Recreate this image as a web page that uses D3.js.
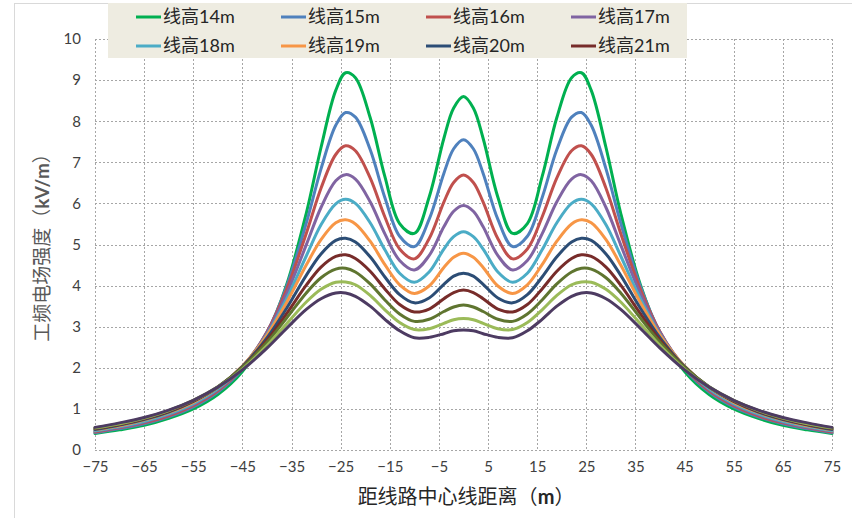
<!DOCTYPE html>
<html><head><meta charset="utf-8">
<script src="https://cdn.jsdelivr.net/npm/d3@7"></script>
<style>html,body{margin:0;padding:0;background:#fff;} svg{display:block;}</style>
</head><body><svg id="c" width="852" height="518"></svg>
<script>
const distances = [-75,-70,-65,-60,-55,-50,-45,-40,-36,-32,-29,-26,-24,-22,-19,-16,-13,-10,-7,-4,-2,0,2,4,7,10,13,16,19,22,24,26,29,32,36,40,45,50,55,60,65,70,75];
const h14 = [0.40,0.49,0.60,0.77,1.00,1.35,1.91,2.83,4.02,5.76,7.36,8.75,9.18,9.06,8.09,6.65,5.51,5.27,6.15,7.58,8.32,8.60,8.32,7.58,6.15,5.27,5.51,6.65,8.09,9.06,9.18,8.75,7.36,5.76,4.02,2.83,1.91,1.35,1.00,0.77,0.60,0.49,0.40];
const h15 = [0.42,0.52,0.64,0.81,1.05,1.41,1.97,2.87,3.98,5.52,6.84,7.90,8.21,8.10,7.31,6.14,5.20,4.95,5.61,6.73,7.33,7.55,7.33,6.73,5.61,4.95,5.20,6.14,7.31,8.10,8.21,7.90,6.84,5.52,3.98,2.87,1.97,1.41,1.05,0.81,0.64,0.52,0.42];
const h16 = [0.44,0.54,0.66,0.83,1.08,1.44,2.00,2.87,3.91,5.27,6.37,7.19,7.40,7.28,6.62,5.67,4.89,4.65,5.14,6.03,6.51,6.69,6.51,6.03,5.14,4.65,4.89,5.67,6.62,7.28,7.40,7.19,6.37,5.27,3.91,2.87,2.00,1.44,1.08,0.83,0.66,0.54,0.44];
const h17 = [0.46,0.55,0.68,0.86,1.11,1.47,2.02,2.85,3.80,4.99,5.90,6.55,6.70,6.59,6.04,5.26,4.61,4.38,4.73,5.43,5.81,5.95,5.81,5.43,4.73,4.38,4.61,5.26,6.04,6.59,6.70,6.55,5.90,4.99,3.80,2.85,2.02,1.47,1.11,0.86,0.68,0.55,0.46];
const h18 = [0.47,0.57,0.70,0.88,1.13,1.49,2.02,2.81,3.68,4.72,5.48,5.99,6.10,6.00,5.53,4.87,4.30,4.08,4.33,4.89,5.19,5.31,5.19,4.89,4.33,4.08,4.30,4.87,5.53,6.00,6.10,5.99,5.48,4.72,3.68,2.81,2.02,1.49,1.13,0.88,0.70,0.57,0.47];
const h19 = [0.49,0.59,0.73,0.91,1.16,1.52,2.04,2.79,3.59,4.50,5.12,5.53,5.60,5.50,5.08,4.51,4.02,3.81,3.99,4.44,4.69,4.79,4.69,4.44,3.99,3.81,4.02,4.51,5.08,5.50,5.60,5.53,5.12,4.50,3.59,2.79,2.04,1.52,1.16,0.91,0.73,0.59,0.49];
const h20 = [0.50,0.61,0.74,0.92,1.18,1.53,2.03,2.73,3.45,4.25,4.77,5.10,5.15,5.06,4.70,4.21,3.78,3.58,3.70,4.03,4.23,4.30,4.23,4.03,3.70,3.58,3.78,4.21,4.70,5.06,5.15,5.10,4.77,4.25,3.45,2.73,2.03,1.53,1.18,0.92,0.74,0.61,0.50];
const h21 = [0.52,0.62,0.76,0.94,1.19,1.53,2.01,2.67,3.32,4.01,4.45,4.71,4.75,4.66,4.35,3.92,3.54,3.36,3.43,3.68,3.83,3.89,3.83,3.68,3.43,3.36,3.54,3.92,4.35,4.66,4.75,4.71,4.45,4.01,3.32,2.67,2.01,1.53,1.19,0.94,0.76,0.62,0.52];
const h22 = [0.53,0.64,0.77,0.96,1.20,1.54,2.01,2.62,3.21,3.82,4.19,4.40,4.42,4.33,4.04,3.65,3.31,3.13,3.18,3.37,3.48,3.53,3.48,3.37,3.18,3.13,3.31,3.65,4.04,4.33,4.42,4.40,4.19,3.82,3.21,2.62,2.01,1.54,1.20,0.96,0.77,0.64,0.53];
const h23 = [0.54,0.64,0.78,0.96,1.21,1.53,1.97,2.54,3.07,3.60,3.91,4.08,4.09,4.02,3.76,3.41,3.10,2.93,2.95,3.08,3.17,3.20,3.17,3.08,2.95,2.93,3.10,3.41,3.76,4.02,4.09,4.08,3.91,3.60,3.07,2.54,1.97,1.53,1.21,0.96,0.78,0.64,0.54];
const h24 = [0.55,0.66,0.79,0.97,1.21,1.53,1.95,2.48,2.96,3.42,3.68,3.82,3.82,3.74,3.50,3.18,2.90,2.73,2.74,2.83,2.90,2.92,2.90,2.83,2.74,2.73,2.90,3.18,3.50,3.74,3.82,3.82,3.68,3.42,2.96,2.48,1.95,1.53,1.21,0.97,0.79,0.66,0.55];
const seriesNames = ["线高14m","线高15m","线高16m","线高17m","线高18m","线高19m","线高20m","线高21m","线高22m","线高23m","线高24m"];
const seriesColors = ["#00B050","#4F81BD","#C0504D","#8064A2","#4BACC6","#F79646","#2C4D75","#772C2A","#5F7530","#9BBB59","#4D3B62"];
const xTicks = [-75,-65,-55,-45,-35,-25,-15,-5,5,15,25,35,45,55,65,75];
const yTicks = [0,1,2,3,4,5,6,7,8,9,10];
const legendCount = 8;

const seriesValues = [h14,h15,h16,h17,h18,h19,h20,h21,h22,h23,h24];
const series = seriesNames.map((n,i)=>({name:n,color:seriesColors[i],pts:distances.map((d,j)=>[d,seriesValues[i][j]])}));

const svg = d3.select("#c");
const L=95,R=832,T=39,B=450;
const x = d3.scaleLinear().domain([-75,75]).range([L,R]);
const y = d3.scaleLinear().domain([0,10]).range([B,T]);

svg.append("rect").attr("x",14.5).attr("y",3.5).attr("width",900).attr("height",600)
  .attr("fill","#fff").attr("stroke","#D9D9D9").attr("stroke-width",1);

const grid = svg.append("g");
grid.selectAll("line.v").data(xTicks).join("line")
  .attr("x1",d=>Math.round(x(d))+0.5).attr("x2",d=>Math.round(x(d))+0.5)
  .attr("y1",T).attr("y2",B)
  .attr("stroke","#A6A6A6").attr("stroke-dasharray","2,2").attr("stroke-width",1);
grid.selectAll("line.h").data(yTicks).join("line")
  .attr("x1",L).attr("x2",R)
  .attr("y1",d=>Math.round(y(d))+0.5).attr("y2",d=>Math.round(y(d))+0.5)
  .attr("stroke","#A6A6A6").attr("stroke-dasharray","2,2").attr("stroke-width",1);

const xAxis = svg.append("g").attr("transform",`translate(0,${B})`)
  .call(d3.axisBottom(x).tickValues(xTicks).tickSize(0).tickPadding(11));
xAxis.select(".domain").remove();
xAxis.selectAll("text").attr("font-family","'Liberation Sans Narrow',Lato,sans-serif").attr("font-size",15).attr("fill","#404040");

const yAxis = svg.append("g").attr("transform",`translate(${L},0)`)
  .call(d3.axisLeft(y).tickValues(yTicks).tickSize(0).tickPadding(14));
yAxis.select(".domain").remove();
yAxis.selectAll("text").attr("font-family","Lato,sans-serif").attr("font-size",15).attr("fill","#404040");

const line = d3.line().x(d=>x(d[0])).y(d=>y(d[1])).curve(d3.curveCatmullRom.alpha(0.5));
svg.append("g").selectAll("path").data(series).join("path")
  .attr("d",d=>line(d.pts)).attr("fill","none").attr("stroke",d=>d.color)
  .attr("stroke-width",3).attr("stroke-linejoin","round").attr("stroke-linecap","round");

const yt = svg.append("text").attr("transform","translate(49,243) rotate(-90)")
  .attr("text-anchor","middle").attr("font-size",19).attr("fill","#595959")
  .attr("font-family","'Noto Sans CJK SC',sans-serif").attr("font-weight","normal");
yt.append("tspan").text("工频电场强度（");
yt.append("tspan").attr("font-weight","bold").attr("font-family","Lato,sans-serif").text("kV/m");
yt.append("tspan").text("）");

const xt = svg.append("text").attr("x",466).attr("y",504)
  .attr("text-anchor","middle").attr("font-size",20).attr("fill","#262626")
  .attr("font-family","'Noto Sans CJK SC',sans-serif");
xt.append("tspan").text("距线路中心线距离（");
xt.append("tspan").attr("font-weight","bold").attr("font-family","Lato,sans-serif").text("m");
xt.append("tspan").text("）");

const lg = svg.append("g");
lg.append("rect").attr("x",108).attr("y",3).attr("width",579).attr("height",55).attr("fill","#EEECE1");
const items = lg.selectAll("g.it").data(series.slice(0,legendCount)).join("g")
  .attr("transform",(d,i)=>`translate(${136+(i%4)*145},${i<4?17:46})`);
items.append("line").attr("x1",0).attr("x2",25).attr("y1",0).attr("y2",0)
  .attr("stroke",d=>d.color).attr("stroke-width",3);
items.append("text").attr("x",27).attr("y",0).attr("dy","0.35em")
  .attr("font-size",18).attr("fill","#262626")
  .attr("font-family","Lato,'Noto Sans CJK SC',sans-serif").text(d=>d.name);
</script></body></html>
